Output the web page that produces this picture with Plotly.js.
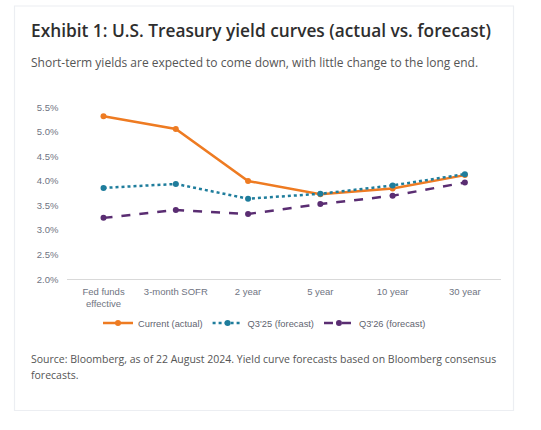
<!DOCTYPE html>
<html>
<head>
<meta charset="utf-8">
<script src="https://cdn.plot.ly/plotly-3.0.1.min.js"></script>
<style>
html,body{margin:0;padding:0;background:#ffffff;}
#chart{width:541px;height:430px;}
</style>
</head>
<body>
<div id="chart"></div>
<script>
// ---- data ----
const categories = ["Fed funds<br>effective", "3-month SOFR", "2 year", "5 year", "10 year", "30 year"];
const currentActual = [5.32, 5.06, 4.00, 3.73, 3.85, 4.12];
const q325Forecast = [3.86, 3.94, 3.64, 3.74, 3.91, 4.14];
const q326Forecast = [3.25, 3.41, 3.33, 3.53, 3.70, 3.97];
const seriesNames = ["Current (actual)", "Q3'25 (forecast)", "Q3'26 (forecast)"];
const yTickVals = [2.0, 2.5, 3.0, 3.5, 4.0, 4.5, 5.0, 5.5];
const yTickText = ["2.0%", "2.5%", "3.0%", "3.5%", "4.0%", "4.5%", "5.0%", "5.5%"];
const titleText = "Exhibit 1: U.S. Treasury yield curves (actual vs. forecast)";
const subtitleText = "Short-term yields are expected to come down, with little change to the long end.";
const sourceLine1 = "Source: Bloomberg, as of 22 August 2024. Yield curve forecasts based on Bloomberg consensus";
const sourceLine2 = "forecasts.";

// ---- layout helpers ----
const W = 541, H = 430;
const px = v => v / W;
const py = v => 1 - v / H;

const traces = [
  {x: categories, y: currentActual, name: seriesNames[0], type: "scatter", mode: "lines+markers",
   line: {color: "#ee7b22", width: 2.5, dash: "solid"}, marker: {color: "#ee7b22", size: 6}},
  {x: categories, y: q325Forecast, name: seriesNames[1], type: "scatter", mode: "lines+markers",
   line: {color: "#1f7d9c", width: 2.5, dash: "dot"}, marker: {color: "#1f7d9c", size: 6}},
  {x: categories, y: q326Forecast, name: seriesNames[2], type: "scatter", mode: "lines+markers",
   line: {color: "#5a2d72", width: 2.5, dash: "dash"}, marker: {color: "#5a2d72", size: 6}}
];

const tickFont = {family: "Liberation Sans, Arial, sans-serif", size: 9.5, color: "#6f7482"};
const bodyFont = "Open Sans, sans-serif";

const layout = {
  width: W, height: H,
  margin: {l: 0, r: 0, t: 0, b: 0},
  paper_bgcolor: "#ffffff",
  plot_bgcolor: "rgba(0,0,0,0)",
  showlegend: true,
  xaxis: {
    domain: [px(67.4), px(501)],
    type: "category",
    range: [-0.5, 5.5],
    showgrid: false, zeroline: false,
    showline: true, linecolor: "#d9d9d9", linewidth: 1,
    ticks: "", tickfont: tickFont, ticklabelstandoff: 3, fixedrange: true
  },
  yaxis: {
    domain: [py(279.3), py(107.3)],
    range: [2.0, 5.5],
    tickvals: yTickVals, ticktext: yTickText,
    showgrid: false, zeroline: false, showline: false,
    ticks: "", tickfont: tickFont, ticklabelstandoff: 8, fixedrange: true
  },
  legend: {
    orientation: "h",
    x: px(98), xanchor: "left",
    y: py(323), yanchor: "middle",
    font: {family: "Liberation Sans, Arial, sans-serif", size: 9.3, color: "#5f6470"},
    itemwidth: 30, tracegroupgap: 0,
    bgcolor: "rgba(0,0,0,0)"
  },
  shapes: [
    {type: "rect", xref: "paper", yref: "paper", layer: "below",
     x0: px(14.5), x1: px(513.5), y0: py(410.5), y1: py(6),
     fillcolor: "#ffffff", line: {color: "#eceef2", width: 1.2}}
  ],
  annotations: [
    {xref: "paper", yref: "paper", x: px(29), y: py(31), xanchor: "left", yanchor: "middle",
     showarrow: false, text: titleText,
     font: {family: bodyFont, size: 17.3, weight: 600, color: "#2e2e2e"}},
    {xref: "paper", yref: "paper", x: px(29), y: py(62), xanchor: "left", yanchor: "middle",
     showarrow: false, text: subtitleText,
     font: {family: bodyFont, size: 12, color: "#555555"}},
    {xref: "paper", yref: "paper", x: px(29), y: py(359), xanchor: "left", yanchor: "middle",
     showarrow: false, align: "left", text: sourceLine1,
     font: {family: bodyFont, size: 10.5, color: "#555555"}},
    {xref: "paper", yref: "paper", x: px(29), y: py(375), xanchor: "left", yanchor: "middle",
     showarrow: false, align: "left", text: sourceLine2,
     font: {family: bodyFont, size: 10.5, color: "#555555"}}
  ]
};

Plotly.newPlot("chart", traces, layout, {displayModeBar: false, staticPlot: true});
</script>
</body>
</html>
